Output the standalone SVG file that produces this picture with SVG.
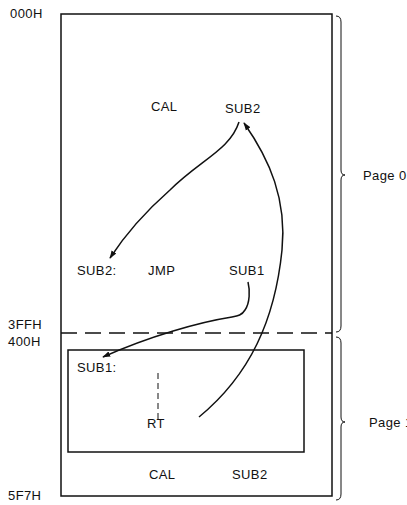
<svg xmlns="http://www.w3.org/2000/svg" width="407" height="505" viewBox="0 0 407 505">
<style>
text{font-family:"Liberation Sans",Arial,sans-serif;font-size:13px;letter-spacing:0.4px;fill:#111}
.ln{fill:none;stroke:#111;stroke-width:1.5}
.br{fill:none;stroke:#111;stroke-width:1}
</style>
<defs>
<marker id="ah" viewBox="0 0 10 10" refX="9" refY="5" markerWidth="8" markerHeight="8" markerUnits="userSpaceOnUse" orient="auto">
<path d="M0,1.5 L10,5 L0,8.5 Z" fill="#111"/>
</marker>
</defs>
<rect width="407" height="505" fill="#fff"/>
<g id="memory">
<rect x="61" y="14" width="271" height="482" class="ln"/>
<line x1="61" y1="333" x2="332" y2="333" class="ln" stroke-dasharray="16 8"/>
</g>
<g id="page1-block">
<rect x="68" y="350" width="236" height="102" class="ln"/>
</g>
<g id="addresses">
<text x="10" y="18">000H</text>
<text x="8" y="329">3FFH</text>
<text x="8" y="346">400H</text>
<text x="8" y="500">5F7H</text>
</g>
<g id="page0">
<path d="M336 16 Q341 16 341 22 L341 170 Q341 175 345 175 Q341 175 341 180 L341 326 Q341 332 336 332" class="br"/>
<text x="363" y="180">Page 0</text>
</g>
<g id="page1">
<path d="M336 337 Q341 337 341 343 L341 417 Q341 422 345 422 Q341 422 341 427 L341 494 Q341 500 336 500" class="br"/>
<text x="369" y="427">Page 1</text>
</g>
<g id="call1">
<text x="151" y="111">CAL</text>
<text x="225" y="113">SUB2</text>
</g>
<g id="sub2">
<text x="77" y="275">SUB2:</text>
<text x="148" y="275">JMP</text>
<text x="229" y="275">SUB1</text>
</g>
<g id="sub1">
<text x="77" y="372">SUB1:</text>
<line x1="158" y1="373" x2="158" y2="419" stroke="#111" stroke-width="1" stroke-dasharray="6 4"/>
<text x="147" y="428">RT</text>
</g>
<g id="call2">
<text x="149" y="479">CAL</text>
<text x="232" y="479">SUB2</text>
</g>
<g id="connectors">
<path d="M239 122 C230 150 200 160 170 190 C145 212 125 235 110 258" class="ln" marker-end="url(#ah)"/>
<path d="M199 417 C250 375 275 320 282 250 C287 200 270 160 244 123" class="ln" marker-end="url(#ah)"/>
<path d="M248 282 C250 290 250 303 245 310 C242 315 238 316 232 317 C200 322 150 336 103 357" class="ln" marker-end="url(#ah)"/>
</g>
</svg>
